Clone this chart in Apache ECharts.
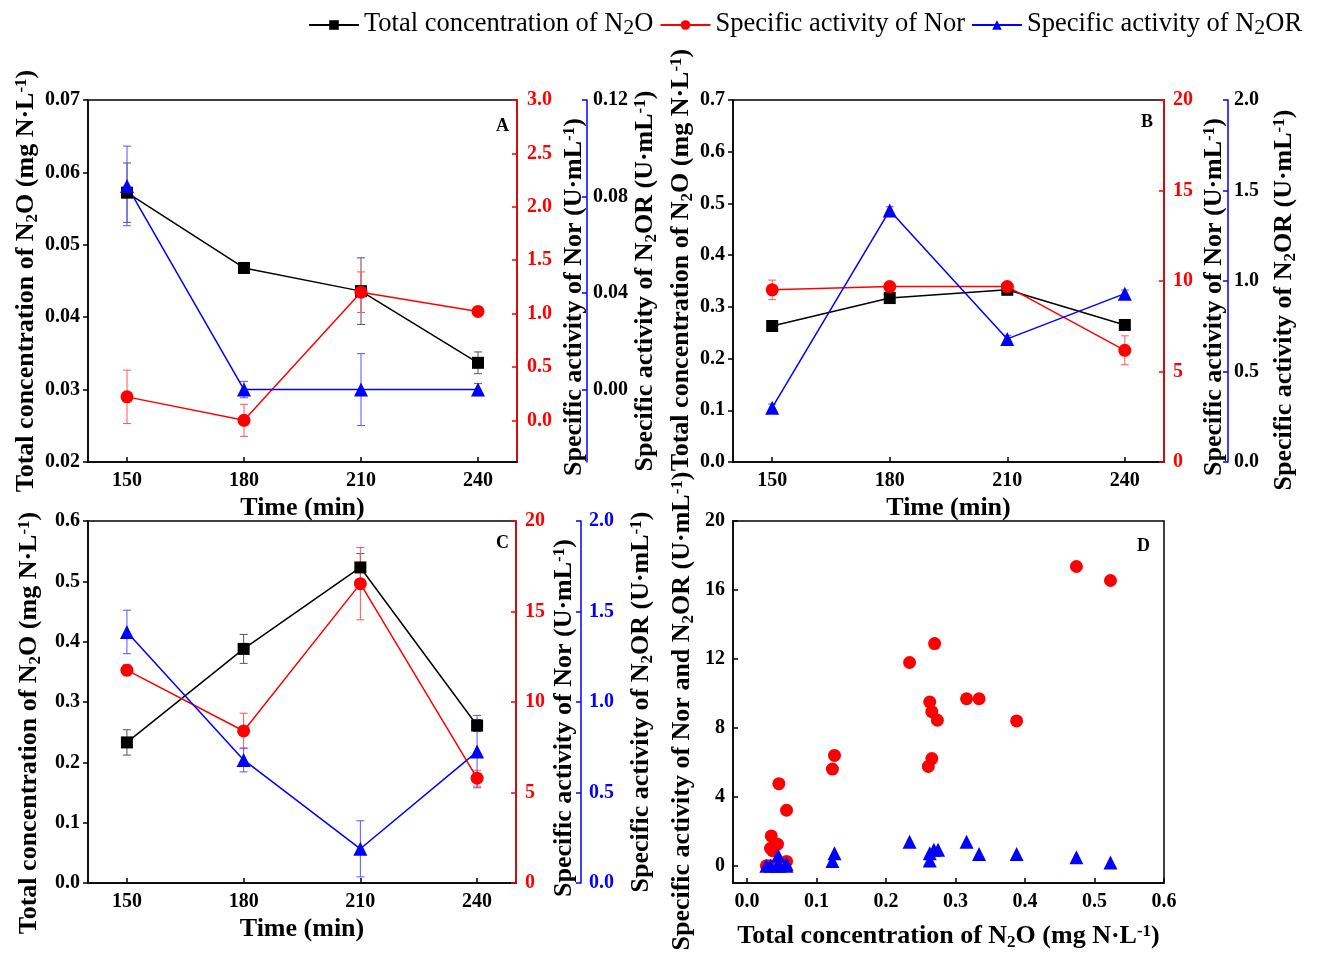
<!DOCTYPE html>
<html><head><meta charset="utf-8">
<script src="https://cdn.jsdelivr.net/npm/echarts@6/dist/echarts.min.js"></script>
<style>html,body{margin:0;padding:0;background:#fff}#c{width:1318px;height:969px}</style>
</head><body><div id="c"></div>
<script>
// ---------- data ----------
const times = [150, 180, 210, 240];
const timeTicks = [150, 180, 210, 240];

const A_n2o = [0.0572, 0.0468, 0.0436, 0.0337];
const A_n2o_err = [0.0041, 0.0004, 0.0046, 0.0015];
const A_nor = [0.22, 0.00, 1.20, 1.02];
const A_nor_err = [0.25, 0.15, 0.19, 0.04];
const A_n2or = [0.0844, 0.000, 0.000, 0.000];
const A_n2or_err = [0.0165, 0.0034, 0.0149, 0.0025];

const B_n2o = [0.263, 0.317, 0.333, 0.265];
const B_n2o_err = [0.003, 0.003, 0.003, 0.003];
const B_nor = [9.51, 9.69, 9.69, 6.17];
const B_nor_err = [0.54, 0.2, 0.2, 0.8];
const B_n2or = [0.30, 1.39, 0.68, 0.93];
const B_n2or_err = [0.02, 0.02, 0.02, 0.02];

const C_n2o = [0.233, 0.388, 0.523, 0.261];
const C_n2o_err = [0.021, 0.024, 0.023, 0.010];
const C_nor = [11.76, 8.40, 16.54, 5.79];
const C_nor_err = [0.30, 0.98, 2.00, 0.44];
const C_n2or = [1.387, 0.680, 0.189, 0.726];
const C_n2or_err = [0.12, 0.066, 0.155, 0.20];

const D_nor_x = [0.474, 0.523, 0.270, 0.234, 0.263, 0.266, 0.274, 0.316, 0.334, 0.388, 0.266, 0.261, 0.126, 0.123, 0.046, 0.057, 0.035, 0.044, 0.034, 0.037, 0.057, 0.028, 0.047, 0.034];
const D_nor_y = [17.36, 16.55, 12.89, 11.79, 9.50, 8.94, 8.44, 9.69, 9.69, 8.40, 6.22, 5.76, 6.40, 5.61, 4.76, 3.22, 1.73, 1.25, 1.01, 0.87, 0.25, 0.0, 0.0, 0.0];
const D_n2or_x = [0.234, 0.316, 0.263, 0.269, 0.275, 0.263, 0.334, 0.388, 0.474, 0.523, 0.126, 0.123, 0.045, 0.057, 0.028, 0.034, 0.047, 0.057, 0.044];
const D_n2or_y = [1.39, 1.39, 0.73, 0.93, 0.93, 0.31, 0.68, 0.68, 0.50, 0.19, 0.72, 0.28, 0.59, 0.12, 0.0, 0.0, 0.0, 0.0, 0.0];

const A_leftTicks = [0.02, 0.03, 0.04, 0.05, 0.06, 0.07];
const A_redTicks = [0, 0.5, 1.0, 1.5, 2.0, 2.5, 3.0];
const A_blueTicks = [0, 0.04, 0.08, 0.12];
const B_leftTicks = [0, 0.1, 0.2, 0.3, 0.4, 0.5, 0.6, 0.7];
const B_redTicks = [0, 5, 10, 15, 20];
const B_blueTicks = [0, 0.5, 1.0, 1.5, 2.0];
const C_leftTicks = [0, 0.1, 0.2, 0.3, 0.4, 0.5, 0.6];
const C_redTicks = [0, 5, 10, 15, 20];
const C_blueTicks = [0, 0.5, 1.0, 1.5, 2.0];
const D_xTicks = [0, 0.1, 0.2, 0.3, 0.4, 0.5, 0.6];
const D_yTicks = [0, 4, 8, 12, 16, 20];

const N1 = 'Total concentration of N2O';
const N2 = 'Specific activity of Nor';
const N3 = 'Specific activity of N2OR';

// ---------- styling ----------
const FONT = 'Liberation Serif';
const BLACK = '#000000', RED = '#ff0000', BLUE = '#0000ff';

const richName = {
  t: {fontFamily: FONT, fontWeight: 'bold', fontSize: 26, lineHeight: 28, verticalAlign: 'top', color: BLACK},
  s: {fontFamily: FONT, fontWeight: 'bold', fontSize: 17, lineHeight: 12, verticalAlign: 'bottom', color: BLACK},
  p: {fontFamily: FONT, fontWeight: 'bold', fontSize: 17, lineHeight: 14, verticalAlign: 'top', color: BLACK}
};
const NAME_N2O = '{t|Total concentration of N}{s|2}{t|O (mg N·L}{p|-1}{t|)}';
const NAME_NOR = '{t|Specific activity of Nor (U·mL}{p|-1}{t|)}';
const NAME_N2OR = '{t|Specific activity of N}{s|2}{t|OR (U·mL}{p|-1}{t|)}';
const NAME_D = '{t|Specific activity of Nor and N}{s|2}{t|OR (U·mL}{p|-1}{t|)}';

function mkY(o) {
  return {
    type: 'value', gridIndex: o.grid, position: o.pos, offset: o.offset || 0,
    min: o.min, max: o.max,
    axisLine: {show: true, onZero: false, lineStyle: {color: o.lineColor, width: 1.5}},
    axisTick: {show: true, inside: o.inside, length: 5, customValues: o.ticks, lineStyle: {color: o.lineColor, width: 1.5}},
    axisLabel: {customValues: o.ticks, formatter: v => Number(v).toFixed(o.dec), color: o.labelColor,
      fontFamily: FONT, fontWeight: 'bold', fontSize: 20, margin: o.margin},
    splitLine: {show: false},
    name: o.name, nameLocation: 'middle', nameRotate: 90, nameGap: o.gap,
    nameTextStyle: {rich: richName, padding: o.namePad || 0}
  };
}
function mkX(o) {
  return {
    type: 'value', gridIndex: o.grid, position: 'bottom', min: o.min, max: o.max,
    axisLine: {show: true, onZero: false, lineStyle: {color: BLACK, width: 1.5}},
    axisTick: {show: true, inside: true, length: 5, customValues: o.ticks, lineStyle: {color: BLACK, width: 1.5}},
    axisLabel: {customValues: o.ticks, formatter: o.fmt, color: BLACK, fontFamily: FONT, fontWeight: 'bold', fontSize: 20, margin: 9},
    splitLine: {show: false},
    name: o.name, nameLocation: 'middle', nameGap: o.gap,
    nameTextStyle: o.rich ? {rich: richName} : {fontFamily: FONT, fontWeight: 'bold', fontSize: 26, color: BLACK}
  };
}

const grids = [
  {left: 88, top: 100, width: 429, height: 362},
  {left: 733, top: 100, width: 431, height: 362},
  {left: 88, top: 521, width: 428, height: 362},
  {left: 733, top: 521, width: 431, height: 362}
].map(g => Object.assign(g, {show: true, borderColor: BLACK, borderWidth: 1.5, backgroundColor: 'transparent', containLabel: false}));

const xAxes = [0, 1, 2].map(i => mkX({grid: i, min: 140, max: 250, ticks: timeTicks, fmt: v => String(v), name: 'Time (min)', gap: 33}));
xAxes.push(mkX({grid: 3, min: -0.02, max: 0.6, ticks: D_xTicks, fmt: v => Number(v).toFixed(1), name: NAME_N2O, gap: 40, rich: true}));

const yAxes = [
  // A
  mkY({grid: 0, pos: 'left', min: 0.02, max: 0.07, ticks: A_leftTicks, dec: 2, lineColor: BLACK, labelColor: BLACK, inside: false, margin: 8, name: NAME_N2O, gap: 44}),
  mkY({grid: 0, pos: 'right', min: -0.39, max: 3.0, ticks: A_redTicks, dec: 1, lineColor: RED, labelColor: RED, inside: true, margin: 10, name: NAME_NOR, gap: 44, namePad: [0, 32, 0, 0]}),
  mkY({grid: 0, pos: 'right', offset: 70, min: -0.03, max: 0.12, ticks: A_blueTicks, dec: 2, lineColor: BLUE, labelColor: BLACK, inside: true, margin: 6, name: NAME_N2OR, gap: 39}),
  // B
  mkY({grid: 1, pos: 'left', min: 0, max: 0.7, ticks: B_leftTicks, dec: 1, lineColor: BLACK, labelColor: BLACK, inside: false, margin: 8, name: NAME_N2O, gap: 36, namePad: [0, 0, 0, 42]}),
  mkY({grid: 1, pos: 'right', min: 0, max: 20, ticks: B_redTicks, dec: 0, lineColor: RED, labelColor: RED, inside: true, margin: 9, name: NAME_NOR, gap: 37, namePad: [0, 32, 0, 0]}),
  mkY({grid: 1, pos: 'right', offset: 64, min: 0, max: 2.0, ticks: B_blueTicks, dec: 1, lineColor: BLUE, labelColor: BLACK, inside: true, margin: 6, name: NAME_N2OR, gap: 43, namePad: [0, 38, 0, 0]}),
  // C
  mkY({grid: 2, pos: 'left', min: 0, max: 0.6, ticks: C_leftTicks, dec: 1, lineColor: BLACK, labelColor: BLACK, inside: false, margin: 8, name: NAME_N2O, gap: 44, namePad: [0, 42, 0, 0]}),
  mkY({grid: 2, pos: 'right', min: 0, max: 20, ticks: C_redTicks, dec: 0, lineColor: RED, labelColor: RED, inside: true, margin: 9, name: NAME_NOR, gap: 35, namePad: [0, 32, 0, 0]}),
  mkY({grid: 2, pos: 'right', offset: 65, min: 0, max: 2.0, ticks: C_blueTicks, dec: 1, lineColor: BLUE, labelColor: BLUE, inside: true, margin: 8, name: NAME_N2OR, gap: 47}),
  // D
  mkY({grid: 3, pos: 'left', min: -1, max: 20, ticks: D_yTicks, dec: 0, lineColor: BLACK, labelColor: BLACK, inside: true, margin: 8, name: NAME_D, gap: 36, namePad: [0, 18, 0, 0]})
];

function errData(xs, ys, es) { return xs.map((x, i) => [x, ys[i] - es[i], ys[i] + es[i]]); }
function errSeries(xi, yi, xs, ys, es, color) {
  return {
    type: 'custom', xAxisIndex: xi, yAxisIndex: yi, z: 1, silent: true,
    data: errData(xs, ys, es),
    renderItem: function (params, api) {
      const x = api.value(0);
      const p1 = api.coord([x, api.value(2)]);
      const p2 = api.coord([x, api.value(1)]);
      const w = 4;
      const st = {stroke: color, lineWidth: 1};
      return {type: 'group', children: [
        {type: 'line', shape: {x1: p1[0], y1: p1[1], x2: p2[0], y2: p2[1]}, style: st},
        {type: 'line', shape: {x1: p1[0] - w, y1: p1[1], x2: p1[0] + w, y2: p1[1]}, style: st},
        {type: 'line', shape: {x1: p2[0] - w, y1: p2[1], x2: p2[0] + w, y2: p2[1]}, style: st}
      ]};
    }
  };
}
function lineSeries(name, xi, yi, xs, ys, color, symbol, size) {
  return {
    name: name, type: 'line', xAxisIndex: xi, yAxisIndex: yi, z: 3,
    data: xs.map((x, i) => [x, ys[i]]),
    symbol: symbol, symbolSize: size, showAllSymbol: true,
    lineStyle: {color: color, width: 1.5}, itemStyle: {color: color, opacity: 1},
    emphasis: {disabled: true}
  };
}

const panels = [
  {xi: 0, y: [0, 1, 2], n2o: A_n2o, n2oE: A_n2o_err, nor: A_nor, norE: A_nor_err, n2or: A_n2or, n2orE: A_n2or_err},
  {xi: 1, y: [3, 4, 5], n2o: B_n2o, n2oE: B_n2o_err, nor: B_nor, norE: B_nor_err, n2or: B_n2or, n2orE: B_n2or_err},
  {xi: 2, y: [6, 7, 8], n2o: C_n2o, n2oE: C_n2o_err, nor: C_nor, norE: C_nor_err, n2or: C_n2or, n2orE: C_n2or_err}
];
const series = [];
panels.forEach(p => {
  series.push(lineSeries(N1, p.xi, p.y[0], times, p.n2o, BLACK, 'rect', 12));
  series.push(lineSeries(N2, p.xi, p.y[1], times, p.nor, RED, 'circle', 13));
  series.push(lineSeries(N3, p.xi, p.y[2], times, p.n2or, BLUE, 'triangle', 14));
  series.push(errSeries(p.xi, p.y[0], times, p.n2o, p.n2oE, '#555555'));
  series.push(errSeries(p.xi, p.y[1], times, p.nor, p.norE, '#ff5555'));
  series.push(errSeries(p.xi, p.y[2], times, p.n2or, p.n2orE, '#5555ff'));
});
series.push({name: N2, type: 'scatter', xAxisIndex: 3, yAxisIndex: 9, symbol: 'circle', symbolSize: 13,
  itemStyle: {color: RED, opacity: 1}, emphasis: {disabled: true}, data: D_nor_x.map((x, i) => [x, D_nor_y[i]]), z: 3});
series.push({name: N3, type: 'scatter', xAxisIndex: 3, yAxisIndex: 9, symbol: 'triangle', symbolSize: 14,
  itemStyle: {color: BLUE, opacity: 1}, emphasis: {disabled: true}, data: D_n2or_x.map((x, i) => [x, D_n2or_y[i]]), z: 4});

const legendRich = {
  t: {fontFamily: FONT, fontSize: 26.5, lineHeight: 28, verticalAlign: 'top', color: BLACK},
  s: {fontFamily: FONT, fontSize: 22, lineHeight: 16, verticalAlign: 'bottom', color: BLACK}
};

const letterStyle = {fontFamily: FONT, fontWeight: 'bold', fontSize: 18, fill: BLACK};
const option = {
  animation: false,
  backgroundColor: '#ffffff',
  grid: grids,
  xAxis: xAxes,
  yAxis: yAxes,
  legend: {
    left: 308, top: 11, width: 1100, padding: 0, itemWidth: 50, itemHeight: 12, itemGap: 6,
    data: [N1, N2, N3],
    formatter: function (n) {
      if (n === N1) return '{t|Total concentration of N}{s|2}{t|O}';
      if (n === N3) return '{t|Specific activity of N}{s|2}{t|OR}';
      return '{t|' + n + '}';
    },
    textStyle: {fontFamily: FONT, fontSize: 26.5, color: BLACK, rich: legendRich}
  },
  graphic: [
    {type: 'text', left: 496, top: 117, style: Object.assign({text: 'A'}, letterStyle)},
    {type: 'text', left: 1141, top: 113, style: Object.assign({text: 'B'}, letterStyle)},
    {type: 'text', left: 496, top: 534, style: Object.assign({text: 'C'}, letterStyle)},
    {type: 'text', left: 1137, top: 537, style: Object.assign({text: 'D'}, letterStyle)}
  ],
  series: series
};
const chart = echarts.init(document.getElementById('c'), null, {renderer: 'canvas'});
chart.setOption(option);
</script>
</body></html>
